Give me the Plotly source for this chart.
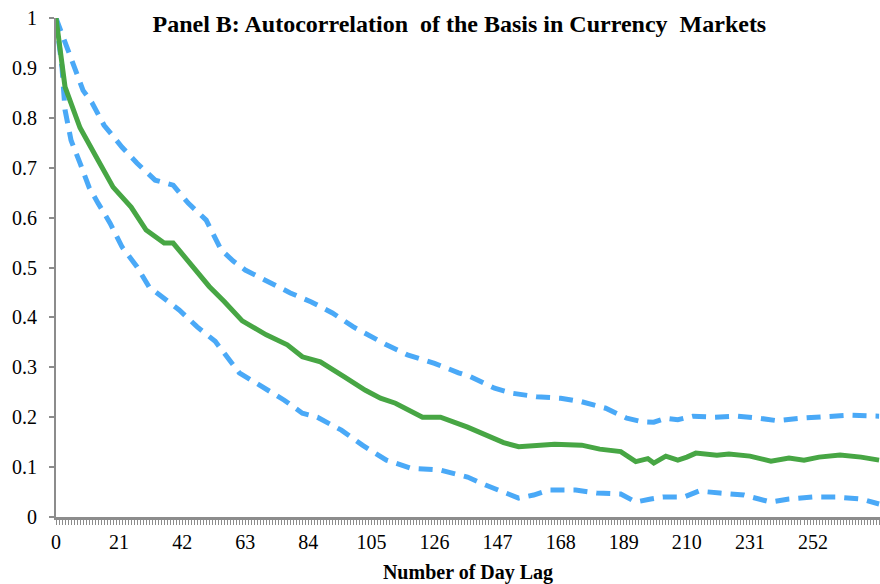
import plotly.graph_objects as go

# Autocorrelation of the currency-market basis by day lag, with upper/lower bands
lag_mid = [0, 3, 8, 11, 14, 19, 25, 30, 36, 39, 45, 51, 56, 62, 70, 77, 82, 88, 96, 103,
           108, 113, 122, 128, 137, 142, 149, 154, 161, 166, 175, 181, 188, 193, 197,
           199, 203, 207, 210, 213, 220, 224, 231, 238, 244, 249, 254, 261, 268, 274]
acf_mid = [1.0, 0.862, 0.78, 0.749, 0.715, 0.661, 0.621, 0.575, 0.549, 0.549, 0.507, 0.462,
           0.432, 0.393, 0.365, 0.345, 0.321, 0.311, 0.281, 0.254, 0.238, 0.228, 0.2, 0.2,
           0.18, 0.168, 0.149, 0.141, 0.144, 0.146, 0.144, 0.136, 0.131, 0.111, 0.117,
           0.108, 0.122, 0.114, 0.12, 0.128, 0.124, 0.126, 0.122, 0.112, 0.118, 0.114,
           0.12, 0.124, 0.12, 0.114]

lag_up = [0, 5, 9, 12, 16, 22, 27, 33, 39, 44, 50, 55, 59, 63, 71, 78, 85, 92, 99, 110,
          117, 126, 134, 138, 146, 152, 160, 168, 175, 183, 190, 195, 199, 203, 207, 212,
          219, 227, 234, 240, 248, 257, 264, 274]
acf_up = [1.0, 0.92, 0.855, 0.83, 0.785, 0.741, 0.709, 0.675, 0.665, 0.629, 0.595, 0.535,
          0.513, 0.495, 0.469, 0.449, 0.431, 0.409, 0.381, 0.345, 0.325, 0.308, 0.289,
          0.281, 0.258, 0.248, 0.241, 0.238, 0.231, 0.218, 0.198, 0.191, 0.19, 0.198,
          0.195, 0.202, 0.2, 0.202, 0.198, 0.193, 0.198, 0.202, 0.204, 0.202]

lag_lo = [0, 2, 3, 5, 8, 11, 14, 18, 22, 27, 31, 37, 41, 47, 53, 61, 69, 76, 82, 87, 95,
          102, 110, 118, 128, 131, 137, 143, 150, 154, 159, 164, 173, 180, 188, 193, 198,
          202, 209, 214, 221, 229, 234, 238, 244, 252, 260, 268, 274]
acf_lo = [1.0, 0.9, 0.816, 0.755, 0.709, 0.661, 0.629, 0.589, 0.541, 0.501, 0.461, 0.435,
          0.415, 0.381, 0.352, 0.289, 0.261, 0.234, 0.208, 0.2, 0.174, 0.144, 0.114, 0.098,
          0.094, 0.09, 0.08, 0.064, 0.048, 0.038, 0.044, 0.054, 0.054, 0.048, 0.046, 0.03,
          0.036, 0.04, 0.04, 0.052, 0.048, 0.044, 0.036, 0.03, 0.036, 0.04, 0.04, 0.036,
          0.026]

GREEN = "#47A644"
BLUE = "#4AA9F7"
GREY = "#8C8C8C"
SERIF = "Liberation Serif, Times New Roman, serif"

fig = go.Figure()
fig.add_trace(go.Scatter(x=lag_up, y=acf_up, mode="lines",
                         line=dict(color=BLUE, width=5, dash="14px,9px")))
fig.add_trace(go.Scatter(x=lag_lo, y=acf_lo, mode="lines",
                         line=dict(color=BLUE, width=5, dash="14px,9px")))
fig.add_trace(go.Scatter(x=lag_mid, y=acf_mid, mode="lines",
                         line=dict(color=GREEN, width=5)))

fig.update_layout(
    width=880, height=584,
    margin=dict(l=56, r=0, t=18, b=67),
    paper_bgcolor="white", plot_bgcolor="white",
    showlegend=False,
    font=dict(family=SERIF, size=20, color="black"),
    title=dict(text="<b>Panel B: Autocorrelation \u00a0of the Basis in Currency \u00a0Markets</b>",
               font=dict(family=SERIF, size=24, color="black"),
               x=0.522, xanchor="center", xref="container",
               y=1 - 24 / 584, yanchor="middle", yref="container"),
    xaxis=dict(
        range=[0, 274.3], tick0=0, dtick=21,
        showgrid=False, zeroline=False,
        showline=True, linecolor=GREY, linewidth=2.5,
        ticks="outside", ticklen=5, tickwidth=1, tickcolor=GREY,
        minor=dict(dtick=1, tick0=0, ticks="outside", ticklen=5, tickwidth=1, tickcolor=GREY),
        tickfont=dict(family=SERIF, size=20, color="black"),
        title=dict(text="<b>Number of Day Lag</b>", standoff=14,
                   font=dict(family=SERIF, size=20, color="black")),
    ),
    yaxis=dict(
        range=[0, 1], tick0=0, dtick=0.1,
        showgrid=False, zeroline=False,
        showline=True, linecolor=GREY, linewidth=2,
        ticks="outside", ticklen=5, tickwidth=1.5, tickcolor=GREY,
        ticklabelstandoff=8,
        tickfont=dict(family=SERIF, size=20, color="black"),
    ),
)

fig.write_html("out.html")
